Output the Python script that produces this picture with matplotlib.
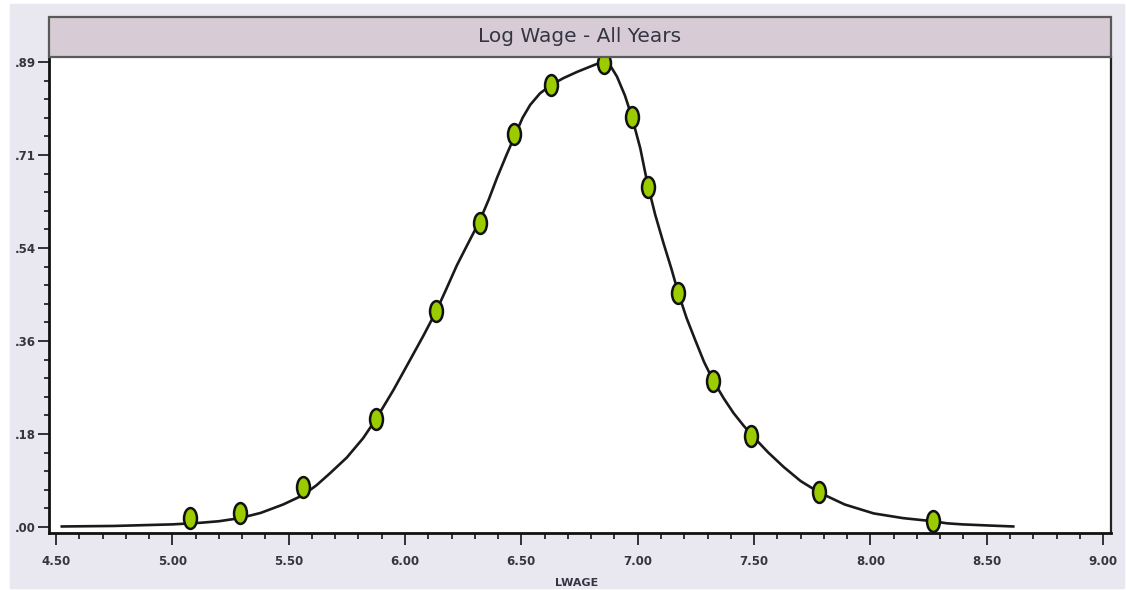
#!/usr/bin/env python3

import matplotlib
matplotlib.use("Agg")
import matplotlib.pyplot as plt
from matplotlib.patches import Rectangle
from matplotlib.path import Path
from matplotlib.transforms import Affine2D
from matplotlib.ticker import FixedLocator, MultipleLocator


# density curve
CURVE_X = [4.525, 4.75, 4.917, 5.0, 5.119, 5.2, 5.291, 5.38, 5.476, 5.562,
           5.62, 5.678, 5.75, 5.82, 5.876, 5.95, 6.022, 6.08, 6.134, 6.18,
           6.223, 6.27, 6.320, 6.36, 6.395, 6.435, 6.473, 6.505, 6.538, 6.58,
           6.628, 6.68, 6.739, 6.80, 6.84, 6.860, 6.885, 6.911, 6.945, 6.975,
           7.011, 7.042, 7.075, 7.111, 7.145, 7.175, 7.21, 7.247, 7.285, 7.326,
           7.37, 7.412, 7.455, 7.494, 7.56, 7.627, 7.70, 7.780, 7.89, 8.014,
           8.14, 8.269, 8.33, 8.395, 8.50, 8.614]
CURVE_Y = [0.001, 0.002, 0.004, 0.005, 0.008, 0.011, 0.017, 0.027, 0.043, 0.061,
           0.080, 0.103, 0.133, 0.170, 0.207, 0.262, 0.320, 0.367, 0.413, 0.458,
           0.501, 0.542, 0.585, 0.627, 0.668, 0.711, 0.750, 0.783, 0.808, 0.830,
           0.846, 0.859, 0.871, 0.882, 0.889, 0.891, 0.881, 0.862, 0.826, 0.785,
           0.725, 0.657, 0.598, 0.543, 0.494, 0.447, 0.400, 0.358, 0.316, 0.279,
           0.246, 0.218, 0.194, 0.174, 0.143, 0.115, 0.088, 0.066, 0.043, 0.026,
           0.017, 0.011, 0.007, 0.005, 0.003, 0.001]

# the marked points
POINT_X = [5.076, 5.291, 5.562, 5.876, 6.134, 6.323, 6.469, 6.628, 6.856, 6.976,
           7.045, 7.174, 7.325, 7.488, 7.780, 8.270]
POINT_Y = [0.017, 0.027, 0.077, 0.207, 0.413, 0.582, 0.752, 0.846, 0.888, 0.785,
           0.651, 0.448, 0.279, 0.174, 0.067, 0.011]

Y_TICKS = [0.0, 0.178, 0.356, 0.534, 0.712, 0.89]
Y_LABELS = [".00", ".18", ".36", ".54", ".71", ".89"]
X_TICKS = [4.5, 5.0, 5.5, 6.0, 6.5, 7.0, 7.5, 8.0, 8.5, 9.0]
X_LABELS = ["4.50", "5.00", "5.50", "6.00", "6.50", "7.00", "7.50", "8.00", "8.50", "9.00"]

TITLE = "Log Wage - All Years"
XLABEL = "LWAGE"

W, H = 1126, 590
BG = "#e9e7ef"
TEXT_COLOR = "#353542"


def px_box(x0, y0, x1, y1):
    # pixel box (top-left origin) -> figure fraction rect
    return [x0 / W, 1 - y1 / H, (x1 - x0) / W, (y1 - y0) / H]


def main() -> None:
    fig = plt.figure(figsize=(W / 100, H / 100), dpi=100, facecolor="white")
    fig.patches.append(Rectangle((10 / W, 2 / H), 1114 / W, 584 / H,
                                 transform=fig.transFigure, color=BG, zorder=-10))

    ax = fig.add_axes(px_box(49, 57, 1111, 533))
    ax.set_facecolor("white")

    # title strip above the plot
    strip_h = 40 / 476
    ax.add_patch(Rectangle((0, 1), 1, strip_h, transform=ax.transAxes,
                           facecolor="#d7ccd5", edgecolor="#5a5a5a",
                           linewidth=1.6, clip_on=False, zorder=5))
    ax.text(0.5, 1 + strip_h / 2, TITLE, transform=ax.transAxes,
            ha="center", va="center", fontsize=14.5, color=TEXT_COLOR, zorder=6)

    ax.plot(CURVE_X, CURVE_Y, color="#1a1a1a", linewidth=1.9,
            solid_joinstyle="round", zorder=3)

    ellipse = Path.unit_circle().transformed(Affine2D().scale(0.62, 1.0))
    ax.plot(POINT_X, POINT_Y, linestyle="none", marker=ellipse, markersize=15,
            markerfacecolor="#9bcc00", markeredgecolor="#111111",
            markeredgewidth=1.8, zorder=4)

    ax.set_xlim(4.47, 9.034)
    ax.set_ylim(-0.0115, 0.8996)

    ax.xaxis.set_major_locator(FixedLocator(X_TICKS))
    ax.set_xticklabels(X_LABELS)
    ax.xaxis.set_minor_locator(MultipleLocator(0.1))
    ax.yaxis.set_major_locator(FixedLocator(Y_TICKS))
    ax.set_yticklabels(Y_LABELS)
    ax.yaxis.set_minor_locator(MultipleLocator(0.0356))

    ax.tick_params(axis="x", which="major", direction="out", length=8.5, width=1.4,
                   color="#333333", pad=7, labelsize=8.5, labelcolor=TEXT_COLOR)
    ax.tick_params(axis="x", which="minor", direction="out", length=4.3, width=1.4,
                   color="#333333")
    ax.tick_params(axis="y", which="major", direction="out", length=8, width=1.4,
                   color="#333333", pad=1.5, labelsize=8.5, labelcolor=TEXT_COLOR)
    ax.tick_params(axis="y", which="minor", direction="out", length=3.6, width=1.4,
                   color="#333333")
    for lab in ax.get_xticklabels() + ax.get_yticklabels():
        lab.set_fontweight("bold")

    for side in ("left", "bottom"):
        ax.spines[side].set_linewidth(2.0)
        ax.spines[side].set_color("#111111")
    ax.spines["right"].set_linewidth(1.6)
    ax.spines["right"].set_color("#222222")
    ax.spines["top"].set_visible(False)

    fig.text(577 / W, 2 / H, XLABEL, ha="center", va="bottom",
             fontsize=8, fontweight="bold", color=TEXT_COLOR)

    fig.savefig("out.png", dpi=100, facecolor=fig.get_facecolor())
    plt.close(fig)


if __name__ == "__main__":
    main()
